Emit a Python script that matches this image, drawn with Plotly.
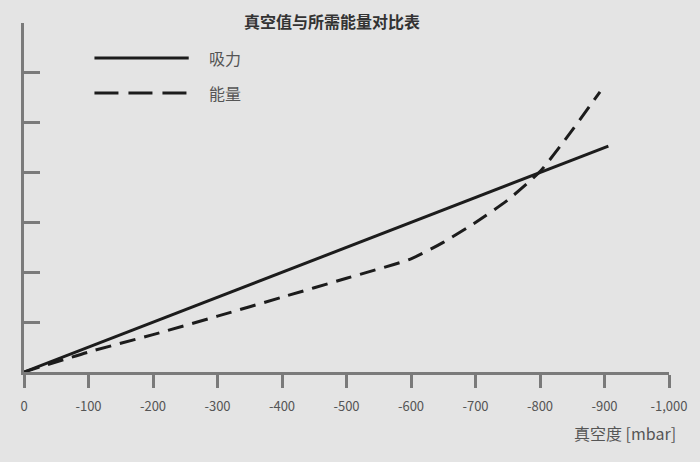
import plotly.graph_objects as go

# Data
vacuum_suction = [0, -906]
suction = [0, 4.53]

vacuum_energy = [0, -100, -200, -300, -400, -500, -600, -650, -700, -750, -800, -850, -893]
energy = [0, 0.40, 0.75, 1.12, 1.50, 1.88, 2.27, 2.60, 3.00, 3.45, 4.02, 4.85, 5.62]

x_tickvals = [0, -100, -200, -300, -400, -500, -600, -700, -800, -900, -1000]
x_ticktext = ["0", "-100", "-200", "-300", "-400", "-500", "-600", "-700", "-800", "-900", "-1,000"]
y_tickvals = [0, 1, 2, 3, 4, 5, 6, 7]

title_text = "真空值与所需能量对比表"
series_names = ["吸力", "能量"]
x_title = "真空度 [mbar]"

FONT = "Noto Sans CJK SC"
LINE = "#1c1c1c"
AXIS = "#7a7a7a"
TXT = "#555555"
BG = "#e4e4e4"

# plot area in screen pixels: x 21..671, y 23..372
PX0, PX1, PY0, PY1 = 21, 671, 23, 372
def px(x):
    return (x - PX0) / (PX1 - PX0)
def py(y):
    return (PY1 - y) / (PY1 - PY0)

fig = go.Figure()
fig.add_trace(go.Scatter(x=vacuum_suction, y=suction, mode="lines", name=series_names[0],
                         line=dict(color=LINE, width=3), showlegend=False))
fig.add_trace(go.Scatter(x=vacuum_energy, y=energy, mode="lines", name=series_names[1],
                         line=dict(color=LINE, width=3, dash="16px,9px", shape="spline", smoothing=0.6),
                         showlegend=False))

# legend (drawn manually to match long key lines)
fig.add_shape(type="line", xref="paper", yref="paper", x0=px(92), x1=px(187),
              y0=py(58), y1=py(58), line=dict(color=LINE, width=3))
fig.add_shape(type="line", xref="paper", yref="paper", x0=px(92), x1=px(187),
              y0=py(93), y1=py(93), line=dict(color=LINE, width=3, dash="24px,10px"))
for name, yy in zip(series_names, [58, 93]):
    fig.add_annotation(text=name, xref="paper", yref="paper", x=px(205), y=py(yy),
                       xanchor="left", yanchor="middle", showarrow=False,
                       font=dict(family=FONT, size=16, color=TXT))

fig.add_annotation(text="<b>" + title_text + "</b>", xref="paper", yref="paper",
                   x=px(331), y=py(21), xanchor="center", yanchor="middle",
                   showarrow=False, font=dict(family=FONT, size=16, color="#333333"))

fig.add_annotation(text=x_title, xref="paper", yref="paper", x=px(680), y=py(433),
                   xanchor="right", yanchor="middle", showarrow=False,
                   font=dict(family=FONT, size=16, color=TXT))

# page has an 8px body margin, so the figure starts at (8, 8) on screen
fig.update_layout(
    width=692, height=454,
    margin=dict(l=PX0 - 8, r=692 - (PX1 - 8), t=PY0 - 8, b=454 - (PY1 - 8)),
    paper_bgcolor=BG, plot_bgcolor=BG,
    xaxis=dict(range=[0, -1000], tickvals=x_tickvals, ticktext=x_ticktext,
               showgrid=False, zeroline=False, showline=True, linecolor=AXIS, linewidth=2.5,
               ticks="outside", ticklen=13, tickwidth=2.5, tickcolor=AXIS, ticklabelstandoff=8,
               tickfont=dict(family=FONT, size=13, color=TXT)),
    yaxis=dict(range=[0, 7], tickvals=y_tickvals, showticklabels=False,
               showgrid=False, zeroline=False, showline=True, linecolor=AXIS, linewidth=2.5,
               ticks="inside", ticklen=16, tickwidth=2.5, tickcolor=AXIS),
    showlegend=False,
)

fig.write_html("out.html", post_script="document.body.style.background='%s';" % BG)
